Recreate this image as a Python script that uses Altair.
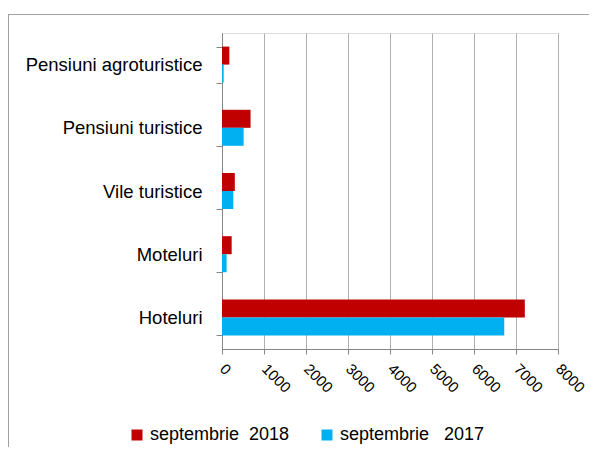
import altair as alt
import pandas as pd

categories = ["Pensiuni agroturistice", "Pensiuni turistice", "Vile turistice", "Moteluri", "Hoteluri"]
series_names = ["septembrie\u00a0\u00a02018", "septembrie\u00a0\u00a0\u00a02017"]
values_2018 = [175, 680, 305, 230, 7210]
values_2017 = [40, 515, 270, 110, 6720]
x_ticks = [0, 1000, 2000, 3000, 4000, 5000, 6000, 7000, 8000]

rows = []
for c, v in zip(categories, values_2018):
    rows.append({"cat": c, "series": series_names[0], "val": v})
for c, v in zip(categories, values_2017):
    rows.append({"cat": c, "series": series_names[1], "val": v})
df = pd.DataFrame(rows)

FONT = "Liberation Sans"

bars = alt.Chart(df).mark_bar().encode(
    x=alt.X("val:Q",
            scale=alt.Scale(domain=[0, 8000], nice=False),
            axis=alt.Axis(values=x_ticks, format="d", title=None, grid=True, gridColor="#b0b0b0",
                          domainColor="#868686", tickColor="#868686", tickSize=5,
                          labelAngle=45, labelAlign="left", labelBaseline="middle",
                          labelPadding=12, labelFont=FONT, labelFontSize=15,
                          labelColor="#000000", labelOverlap=False, labelBound=False)),
    y=alt.Y("cat:N", sort=categories,
            scale=alt.Scale(paddingInner=0.43, paddingOuter=0.215),
            axis=alt.Axis(title=None, domainColor="#868686", tickColor="#868686",
                          tickSize=6, bandPosition=0, tickBand="extent",
                          labelPadding=14, labelFont=FONT, labelFontSize=18.5,
                          labelColor="#000000", labelLimit=400)),
    yOffset=alt.YOffset("series:N", sort=series_names),
    color=alt.Color("series:N", sort=series_names,
                    scale=alt.Scale(domain=series_names, range=["#C00000", "#00B0F0"]),
                    legend=alt.Legend(title=None, orient="none", direction="horizontal",
                                      legendX=-94, legendY=393, symbolType="square",
                                      symbolSize=121, symbolStrokeWidth=0,
                                      labelFont=FONT, labelFontSize=18,
                                      labelColor="#000000", columnPadding=28,
                                      labelOffset=4)),
)

one = pd.DataFrame({"a": [0]})
frame_top = alt.Chart(one).mark_rule(color="#a0a0a0", strokeWidth=1).encode(
    x=alt.value(-214), x2=alt.value(367), y=alt.value(-18.5))
frame_left = alt.Chart(one).mark_rule(color="#a0a0a0", strokeWidth=1).encode(
    x=alt.value(-213.5), y=alt.value(-19), y2=alt.value(414))

chart = alt.layer(frame_top, frame_left, bars).properties(
    width=336, height=316,
    autosize=alt.AutoSizeParams(type="none"),
    padding={"left": 214, "top": 25, "right": 31, "bottom": 98},
).configure_view(stroke=None).configure(background="white")

chart.save("out.html", embed_options={"renderer": "svg", "actions": False})
